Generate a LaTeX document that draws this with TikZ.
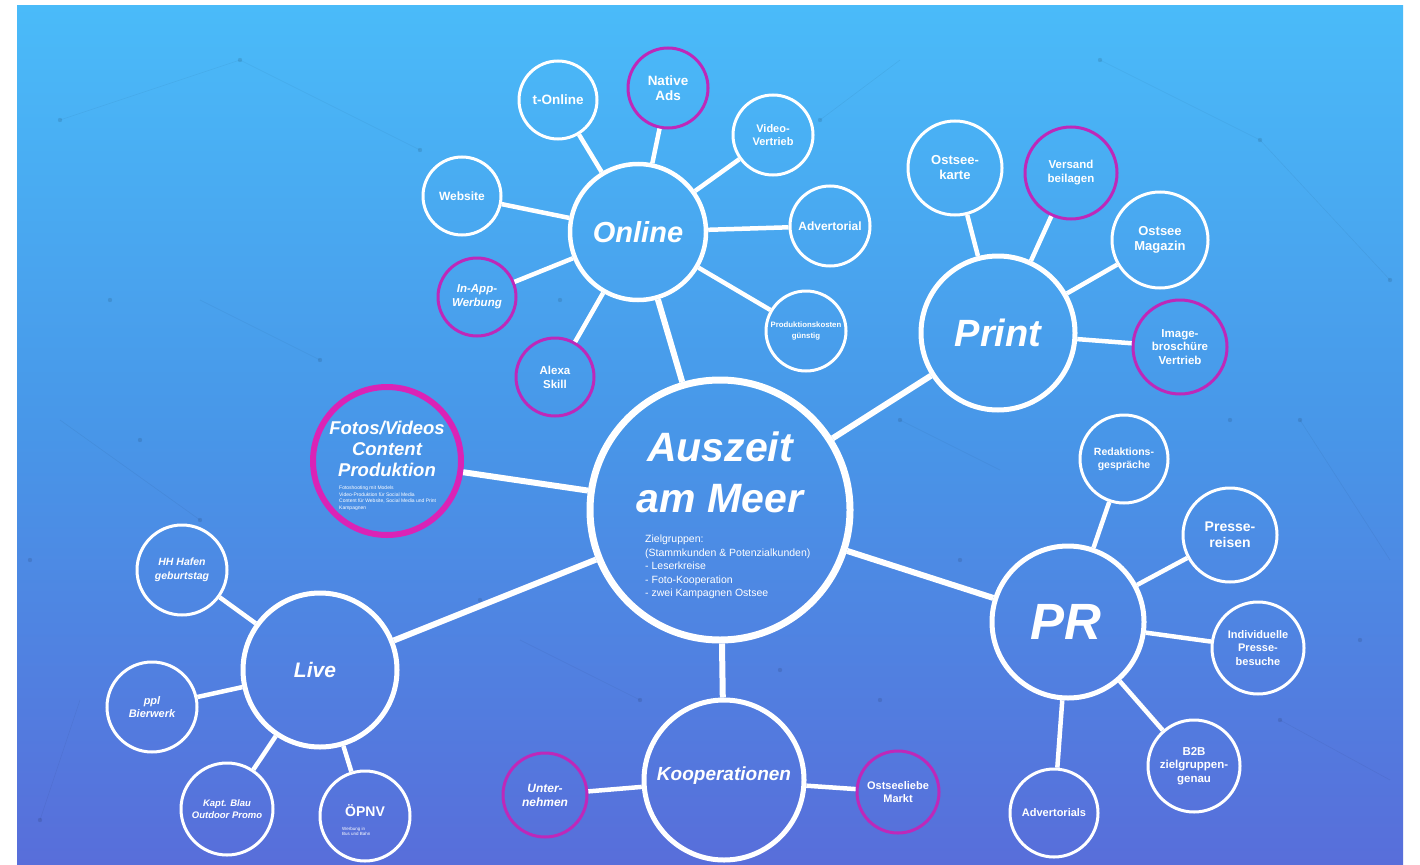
\documentclass[tikz,border=0pt]{standalone}
\usepackage{fontspec}
\newfontfamily\lab{Liberation Sans}
\definecolor{bgtop}{RGB}{74,187,249}
\definecolor{bgmid}{RGB}{72,150,232}
\definecolor{bgbot}{RGB}{88,110,218}
\definecolor{mag}{RGB}{190,40,185}
\definecolor{magb}{RGB}{218,35,182}
\tikzset{
  hub/.style={circle, draw=white, inner sep=0pt, text=white, align=center},
  kid/.style={circle, draw=white, line width=3pt, inner sep=0pt, text=white, align=center,
              font=\lab\bfseries\fontsize{12.5}{14}\selectfont},
  kidm/.style={kid, draw=mag},
  biglink/.style={draw=white, line width=6pt},
  link/.style={draw=white, line width=4.5pt},
  txt/.style={text=white, align=center, inner sep=0pt},
  speck/.style={fill=black, opacity=0.10},
  thread/.style={draw=black, opacity=0.05, line width=0.6pt}
}
\begin{document}
\begin{tikzpicture}[x=1pt,y=-1pt]
\useasboundingbox (0,0) rectangle (1420,864);
\fill[white] (0,0) rectangle (1420,864);
\shade[top color=bgtop, bottom color=bgbot, middle color=bgmid] (17,6) rectangle (1403,864);
% faint background texture
\foreach \a/\b/\c/\d in {60/120/240/60, 240/60/420/150, 1100/60/1260/140, 1260/140/1390/280,
  60/420/200/520, 80/700/40/820, 1300/420/1390/560, 900/420/1000/470, 520/640/640/700,
  1280/720/1390/780, 820/120/900/60, 200/300/320/360}
  {\draw[thread] (\a,\b) -- (\c,\d);}
\foreach \p/\q in {60/120, 240/60, 420/150, 1100/60, 1260/140, 1390/280, 200/520, 40/820,
  1300/420, 900/420, 640/700, 1280/720, 820/120, 320/360, 110/300, 1360/640, 480/600, 960/560,
  880/700, 140/440, 1230/420, 560/300, 30/560, 780/670}
  {\fill[speck] (\p,\q) circle (2.2);}

% hubs
\node[hub, line width=7pt, minimum size=260pt] (c) at (720,510) {};
\node[hub, line width=4.5pt, minimum size=136pt] (online) at (638,232) {};
\node[hub, line width=5pt, minimum size=154pt] (print) at (998,333) {};
\node[hub, line width=5pt, minimum size=152pt] (pr) at (1068,622) {};
\node[hub, line width=5pt, minimum size=154pt] (live) at (320,670) {};
\node[hub, line width=5pt, minimum size=160pt] (koop) at (724,780) {};
\node[hub, draw=magb, line width=6pt, minimum size=148pt] (fotos) at (387,461) {};

% hub labels
\node[txt, font=\lab\bfseries\itshape\fontsize{41}{51}\selectfont] (ctitle) at (720,472) {Auszeit\\am Meer};
\node[txt, align=left, anchor=north west, font=\lab\fontsize{10.5}{13.5}\selectfont] (cinfo) at (645,535)
  {Zielgruppen:\\(Stammkunden \& Potenzialkunden)\\- Leserkreise\\- Foto-Kooperation\\- zwei Kampagnen Ostsee};
\node[txt, font=\lab\bfseries\itshape\fontsize{29}{30}\selectfont] (tonline) at (638,232) {Online};
\node[txt, font=\lab\bfseries\itshape\fontsize{38}{40}\selectfont] (tprint) at (998,333) {Print};
\node[txt, font=\lab\bfseries\itshape\fontsize{51}{52}\selectfont] (tpr) at (1066,622) {PR};
\node[txt, font=\lab\bfseries\itshape\fontsize{21}{22}\selectfont] (tlive) at (315,670) {Live};
\node[txt, font=\lab\bfseries\itshape\fontsize{19}{20}\selectfont] (tkoop) at (724,776) {Kooperationen};
\node[txt, font=\lab\bfseries\itshape\fontsize{18.5}{21}\selectfont] (tfotos) at (387,449) {Fotos/Videos\\Content\\Produktion};
\node[txt, align=left, anchor=north west, font=\lab\fontsize{5}{6.5}\selectfont] (ffine) at (339,486)
  {Fotoshooting mit Models\\Video-Produktion f\"ur Social Media\\Content f\"ur Website, Social Media und Print\\Kampagnen};

% Online children
\node[kid, minimum size=78pt, font=\lab\bfseries\fontsize{13.5}{15}\selectfont] (tonl) at (558,100) {t-Online};
\node[kidm, minimum size=80pt, font=\lab\bfseries\fontsize{13.5}{15}\selectfont] (nads) at (668,88) {Native\\Ads};
\node[kid, minimum size=80pt, font=\lab\bfseries\fontsize{11}{13}\selectfont] (vid) at (773,135) {Video-\\Vertrieb};
\node[kid, minimum size=80pt, font=\lab\bfseries\fontsize{12}{13}\selectfont] (adv) at (830,226) {Advertorial};
\node[kid, minimum size=80pt, font=\lab\bfseries\fontsize{7.8}{10.5}\selectfont] (prod) at (806,331) {Produktionskosten\\g\"unstig};
\node[kid, minimum size=78pt, font=\lab\bfseries\fontsize{12}{13}\selectfont] (web) at (462,196) {Website};
\node[kidm, minimum size=78pt, font=\lab\bfseries\itshape\fontsize{11.5}{14}\selectfont] (inapp) at (477,297) {In-App-\\Werbung};
\node[kidm, minimum size=78pt, font=\lab\bfseries\fontsize{11.5}{14}\selectfont] (alexa) at (555,377) {Alexa\\Skill};

% Print children
\node[kid, minimum size=94pt, font=\lab\bfseries\fontsize{13}{15}\selectfont] (okarte) at (955,168) {Ostsee-\\karte};
\node[kidm, minimum size=92pt, font=\lab\bfseries\fontsize{11.5}{14}\selectfont] (versand) at (1071,173) {Versand\\beilagen};
\node[kid, minimum size=96pt, font=\lab\bfseries\fontsize{13}{15}\selectfont] (omag) at (1160,240) {Ostsee\\Magazin};
\node[kidm, minimum size=94pt, font=\lab\bfseries\fontsize{11.5}{13.5}\selectfont] (image) at (1180,347) {Image-\\brosch\"ure\\Vertrieb};

% PR children
\node[kid, minimum size=88pt, font=\lab\bfseries\fontsize{10.5}{13}\selectfont] (redak) at (1124,459) {Redaktions-\\gespr\"ache};
\node[kid, minimum size=94pt, font=\lab\bfseries\fontsize{14}{16}\selectfont] (reisen) at (1230,535) {Presse-\\reisen};
\node[kid, minimum size=92pt, font=\lab\bfseries\fontsize{11}{13.5}\selectfont] (indiv) at (1258,648) {Individuelle\\Presse-\\besuche};
\node[kid, minimum size=92pt, font=\lab\bfseries\fontsize{11.5}{13.5}\selectfont] (btob) at (1194,766) {B2B\\zielgruppen-\\genau};
\node[kid, minimum size=88pt, font=\lab\bfseries\fontsize{11}{13}\selectfont] (advs) at (1054,813) {Advertorials};

% Live children
\node[kid, minimum size=90pt, font=\lab\bfseries\itshape\fontsize{10.5}{13.5}\selectfont] (hafen) at (182,570) {HH Hafen\\geburtstag};
\node[kid, minimum size=90pt, font=\lab\bfseries\itshape\fontsize{11}{13.5}\selectfont] (bier) at (152,707) {ppl\\Bierwerk};
\node[kid, minimum size=92pt, font=\lab\bfseries\itshape\fontsize{9.5}{12}\selectfont] (promo) at (227,809) {Kapt. Blau\\Outdoor Promo};
\node[kid, minimum size=90pt] (oepnv) at (365,816) {};
\node[txt, font=\lab\bfseries\fontsize{14}{15}\selectfont] (toepnv) at (365,811) {\"OPNV};
\node[txt, align=left, anchor=north west, font=\lab\fontsize{4.5}{5.5}\selectfont] (oepfine) at (342,827) {Werbung in\\Bus und Bahn};

% Kooperationen children
\node[kidm, minimum size=84pt, font=\lab\bfseries\itshape\fontsize{12}{14}\selectfont] (unter) at (545,795) {Unter-\\nehmen};
\node[kidm, minimum size=82pt, font=\lab\bfseries\fontsize{11}{13}\selectfont] (markt) at (898,792) {Ostseeliebe\\Markt};

% connectors: hubs
\draw[biglink] (c) -- (online);
\draw[biglink] (c) -- (print);
\draw[biglink] (c) -- (pr);
\draw[biglink] (c) -- (live);
\draw[biglink] (c) -- (koop);
\draw[biglink] (c) -- (fotos);
% Online
\foreach \k in {tonl,nads,vid,adv,prod,web,inapp,alexa} {\draw[link] (online) -- (\k);}
% Print
\foreach \k in {okarte,versand,omag,image} {\draw[link] (print) -- (\k);}
% PR
\foreach \k in {redak,reisen,indiv,btob,advs} {\draw[link] (pr) -- (\k);}
% Live
\foreach \k in {hafen,bier,promo,oepnv} {\draw[link] (live) -- (\k);}
% Kooperationen
\foreach \k in {unter,markt} {\draw[link] (koop) -- (\k);}
\end{tikzpicture}
\end{document}
